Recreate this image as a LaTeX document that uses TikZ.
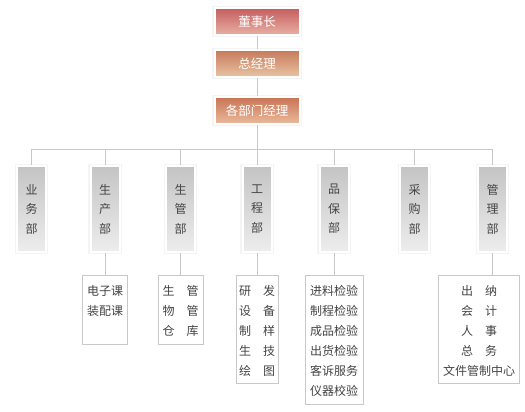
\documentclass[tikz,border=0pt]{standalone}
\usepackage{fontspec}
\setmainfont{Noto Sans CJK SC}
\definecolor{linec}{HTML}{C8C8C8}
\definecolor{redtop}{HTML}{C45E5E}
\definecolor{redbot}{HTML}{E8B0A4}
\definecolor{orgtop}{HTML}{C67A5A}
\definecolor{orgbot}{HTML}{E8C4A4}
\definecolor{graytop}{HTML}{C4C4C4}
\definecolor{graybot}{HTML}{EDEDED}
\definecolor{glowc}{HTML}{F4F4F4}
\definecolor{txt}{HTML}{444444}
\begin{document}
\begin{tikzpicture}[x=1bp,y=-1bp,
  conn/.style={draw=linec, line width=1bp},
  glowbox/.style={preaction={draw=glowc, line width=4.5bp}, draw=white, line width=2bp},
  topbox/.style={glowbox, minimum width=85bp, minimum height=27bp, inner sep=0pt,
     text=white, font=\fontsize{12.5bp}{14bp}\selectfont},
  deptbox/.style={glowbox, top color=graytop, bottom color=graybot,
     minimum width=29bp, minimum height=86bp, inner sep=0pt, text=txt,
     align=center, font=\fontsize{12bp}{19.5bp}\selectfont},
  subbox/.style={draw=linec, line width=1bp, fill=white, inner sep=0pt},
  subtext/.style={text=txt, align=center, inner sep=0pt,
     font=\fontsize{12bp}{20bp}\selectfont}
]
\useasboundingbox (0,0) rectangle (525,411);

% connectors first (behind everything)
\coordinate (bar) at (257,149);
\draw[conn] (257,30) -- (bar);
\draw[conn] (32,149) -- (492.5,149);

% top chain
\node[topbox, top color=redtop, bottom color=redbot] (ceo) at (257,21.5) {董事长};
\node[topbox, top color=orgtop, bottom color=orgbot] (gm) at (257,63.5) {总经理};
\node[topbox, top color=orgtop!95!red, bottom color=orgbot!95!red] (dm) at (257,110.5) {各部门经理};

% departments
\node[deptbox] (d1) at (31.5,209) {业\\务\\部};
\node[deptbox] (d2) at (105,209) {生\\产\\部};
\node[deptbox] (d3) at (180.5,209) {生\\管\\部};
\node[deptbox] (d4) at (257,209) {工\\程\\部};
\node[deptbox] (d5) at (334,209) {品\\保\\部};
\node[deptbox] (d6) at (414.5,209) {采\\购\\部};
\node[deptbox] (d7) at (492.5,209) {管\\理\\部};

% sub boxes
\node[subbox, minimum width=45bp, minimum height=69bp] (s2) at (105,309.5) {};
\node[subbox, minimum width=45bp, minimum height=69bp] (s3) at (180.5,309.5) {};
\node[subbox, minimum width=42bp, minimum height=108bp] (s4) at (257,329) {};
\node[subbox, minimum width=58bp, minimum height=129bp] (s5) at (334,339.5) {};
\node[subbox, minimum width=81bp, minimum height=108bp] (s7) at (478.5,329) {};

\node[subtext] (t2) at (105,301) {电子课\\装配课};
\node[subtext] (t3) at (180.5,311) {生\quad 管\\物\quad 管\\仓\quad 库};
\node[subtext] (t4) at (257,331) {研\quad 发\\设\quad 备\\制\quad 样\\生\quad 技\\绘\quad 图};
\node[subtext] (t5) at (334,341) {进料检验\\制程检验\\成品检验\\出货检验\\客诉服务\\仪器校验};
\node[subtext] (t7) at (479,331) {出\quad 纳\\会\quad 计\\人\quad 事\\总\quad 务\\文件管制中心};

% connectors from nodes
\draw[conn] (ceo.south) -- (gm.north);
\draw[conn] (gm.south) -- (dm.north);
\draw[conn] (dm.south) -- (bar);
\foreach \d in {d1,d2,d3,d4,d5,d6,d7}{
  \draw[conn] (\d.north) -- (\d.north |- bar);
}
\draw[conn] (d2.south) -- (s2.north);
\draw[conn] (d3.south) -- (s3.north);
\draw[conn] (d4.south) -- (s4.north);
\draw[conn] (d5.south) -- (s5.north);
\draw[conn] (d7.south) -- (d7.south |- s7.north);
\end{tikzpicture}
\end{document}
